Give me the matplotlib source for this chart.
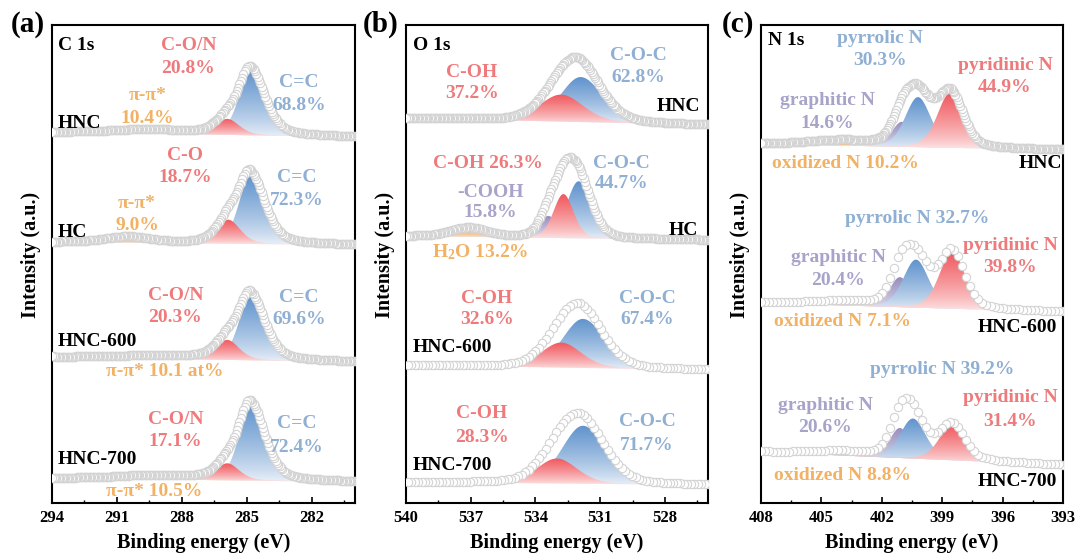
import numpy as np
import matplotlib
matplotlib.use("Agg")
import matplotlib.pyplot as plt
from matplotlib.patches import Polygon
from matplotlib.ticker import MultipleLocator
from matplotlib.colors import to_rgb

plt.rcParams["font.family"] = ["Liberation Serif", "DejaVu Serif"]
plt.rcParams["font.weight"] = "bold"
plt.rcParams["mathtext.fontset"] = "custom"
plt.rcParams["mathtext.rm"] = "Liberation Serif:bold"
plt.rcParams["mathtext.default"] = "rm"

# ---------------- data (peak fits, heights in a.u.) ----------------
samples = ["HNC", "HC", "HNC-600", "HNC-700"]

# C 1s
c1s_bg_left = [371, 261, 146, 25]
c1s_bg_right = [366, 258, 141, 21]
c1s_cc_pos = [284.85, 284.85, 284.85, 284.85]
c1s_cc_h = [66, 69, 65, 77]
c1s_co_pos = [285.9, 285.85, 285.9, 285.9]
c1s_co_h = [16, 24, 20, 17]
c1s_pi_pos = [289.5, 290.5, 289.0, 289.2]
c1s_pi_h = [4, 6, 3, 4]
c1s_pi_w = [4.0, 2.5, 5.0, 4.0]

# O 1s  (HC also has -COOH and H2O)
o1s_bg_left = [385, 267, 138, 21]
o1s_bg_right = [378, 263, 133, 18]
o1s_coc_pos = [531.9, 532.0, 531.8, 531.8]
o1s_coc_h = [45, 57, 49, 58]
o1s_coc_w = [2.2, 1.3, 2.2, 2.3]
o1s_coh_pos = [532.8, 532.7, 532.8, 533.0]
o1s_coh_h = [27, 44, 25, 25]
o1s_coh_w = [2.4, 1.1, 2.2, 2.2]
o1s_cooh_pos, o1s_cooh_h, o1s_cooh_w = 533.4, 22, 1.0
o1s_h2o_pos, o1s_h2o_h, o1s_h2o_w = 537.1, 9, 2.0

# N 1s  (HNC, HNC-600, HNC-700)
n1s_samples = ["HNC", "HNC-600", "HNC-700"]
n1s_bg_left = [359, 200, 51]
n1s_bg_right = [353, 191, 38]
n1s_pyrrolic_pos = [400.2, 400.3, 400.45]
n1s_pyrrolic_h = [50, 48, 40]
n1s_pyridinic_pos = [398.6, 398.5, 398.5]
n1s_pyridinic_h = [55, 57, 36]
n1s_graphitic_pos = [401.0, 401.1, 401.1]
n1s_graphitic_h = [25, 30, 30]
n1s_oxidized_pos = [404.0, 404.0, 404.0]
n1s_oxidized_h = [5, 4, 4]

RED, BLUE, ORANGE, PURPLE = "#f0585d", "#6093cd", "#f5a24a", "#968cbe"
TRED, TBLUE, TORANGE, TPURPLE = "#ef7a7c", "#8fafd3", "#f2b163", "#a7a3c9"


def pv(x, c, h, wl, wr, eta):
    w = np.where(x > c, wl, wr)
    d = (x - c) / w
    return h * ((1 - eta) * np.exp(-4 * np.log(2) * d ** 2) + eta / (1 + 4 * d ** 2))


def grad_fill(ax, x, lo, hi, color, z):
    verts = np.concatenate([np.column_stack([x, hi]), np.column_stack([x[::-1], lo[::-1]])])
    poly = Polygon(verts, closed=True, fc="none", ec="none")
    ax.add_patch(poly)
    s = np.linspace(0, 1, 256)[:, None]
    t = 0.1 + 0.9 * s ** 0.75
    img = ((1 - t) + t * np.array(to_rgb(color)))[:, None, :]
    im = ax.imshow(img, extent=(x.min(), x.max(), lo.min(), hi.max()), origin="lower",
                   aspect="auto", zorder=z, interpolation="bilinear")
    im.set_clip_path(poly)


def stack(ax, xlim, bgl, bgr, comps, eta, mstep, ms=6):
    lo_x, hi_x = min(xlim), max(xlim)
    x = np.linspace(lo_x, hi_x, 1400)
    bg = bgr + (bgl - bgr) * (x - lo_x) / (hi_x - lo_x)
    total = bg.copy()
    for z, (c, h, wl, wr, col) in enumerate(comps):
        y = pv(x, c, h, wl, wr, eta)
        total += y
        grad_fill(ax, x, bg, bg + y, col, 2 + z)
    xm = np.arange(lo_x, hi_x + 1e-9, mstep)
    ym = np.interp(xm, x, total)
    ax.plot(xm, ym, "o", ms=ms, mfc="white", mec="#d3d3d3", mew=0.8, zorder=8)


def lab(ax, x, y, s, color="black", ha="center", fs=14):
    ax.text(x, y, s, color=color, ha=ha, va="center", fontsize=fs, fontweight="bold", zorder=10)


def style(ax, xlim):
    ax.set_xlim(*xlim)
    ax.set_ylim(0, 478)
    ax.set_yticks([])
    ax.xaxis.set_major_locator(MultipleLocator(3))
    ax.xaxis.set_minor_locator(MultipleLocator(1.5))
    ax.tick_params(axis="x", which="major", direction="in", length=4, width=1.2, labelsize=12, pad=5)
    ax.tick_params(axis="x", which="minor", direction="in", length=2.5, width=1.0)
    for lab_ in ax.get_xticklabels():
        lab_.set_fontweight("bold")
    for s in ax.spines.values():
        s.set_linewidth(1.5)
    ax.set_xlabel("Binding energy (eV)", fontsize=14.5, fontweight="bold", labelpad=5)
    ax.set_ylabel("Intensity (a.u.)", fontsize=14.5, fontweight="bold")
    ax.yaxis.set_label_coords(-0.036, 0.52)


W, H = 1076, 558
fig = plt.figure(figsize=(W / 100, H / 100), dpi=100)


def axes_px(l, r, t, b):
    return fig.add_axes([l / W, 1 - b / H, (r - l) / W, (b - t) / H])


# ---------------- (a) C 1s ----------------
axa = axes_px(52, 355, 25, 503)
XA = (294, 280)
for i in range(4):
    comps = [(c1s_pi_pos[i], c1s_pi_h[i], c1s_pi_w[i], c1s_pi_w[i], ORANGE),
             (c1s_cc_pos[i], c1s_cc_h[i], 1.2, 1.6, BLUE),
             (c1s_co_pos[i], c1s_co_h[i], 1.3, 1.3, RED)]
    stack(axa, XA, c1s_bg_left[i], c1s_bg_right[i], comps, 0.4, 0.06)
lab(axa, 293.72, 458, "C 1s", ha="left")
lab(axa, 287.7, 458, "C-O/N", TRED); lab(axa, 287.7, 435, "20.8%", TRED)
lab(axa, 289.6, 408, "π-π*", TORANGE); lab(axa, 289.6, 385, "10.4%", TORANGE)
lab(axa, 282.6, 421, "C=C", TBLUE); lab(axa, 282.6, 398, "68.8%", TBLUE)
lab(axa, 293.72, 380, "HNC", ha="left")
lab(axa, 287.85, 348, "C-O", TRED); lab(axa, 287.85, 326, "18.7%", TRED)
lab(axa, 282.7, 326, "C=C", TBLUE); lab(axa, 282.7, 303, "72.3%", TBLUE)
lab(axa, 290.07, 300, "π-π*", TORANGE); lab(axa, 290.07, 278, "9.0%", TORANGE)
lab(axa, 293.72, 271, "HC", ha="left")
lab(axa, 288.3, 208, "C-O/N", TRED); lab(axa, 288.3, 186, "20.3%", TRED)
lab(axa, 282.6, 206, "C=C", TBLUE); lab(axa, 282.6, 183, "69.6%", TBLUE)
lab(axa, 293.72, 161, "HNC-600", ha="left")
lab(axa, 288.8, 131, "π-π* 10.1 at%", TORANGE)
lab(axa, 288.3, 83, "C-O/N", TRED); lab(axa, 288.3, 61, "17.1%", TRED)
lab(axa, 282.7, 80, "C=C", TBLUE); lab(axa, 282.7, 56, "72.4%", TBLUE)
lab(axa, 293.72, 43, "HNC-700", ha="left")
lab(axa, 289.3, 11, "π-π* 10.5%", TORANGE)
style(axa, XA)

# ---------------- (b) O 1s ----------------
axb = axes_px(406, 708, 25, 503)
XB = (540, 526)
for i in range(4):
    comps = []
    if samples[i] == "HC":
        comps.append((o1s_h2o_pos, o1s_h2o_h, o1s_h2o_w, o1s_h2o_w, ORANGE))
        comps.append((o1s_cooh_pos, o1s_cooh_h, o1s_cooh_w, o1s_cooh_w, PURPLE))
    comps.append((o1s_coc_pos[i], o1s_coc_h[i], o1s_coc_w[i], o1s_coc_w[i] * 1.1, BLUE))
    comps.append((o1s_coh_pos[i], o1s_coh_h[i], o1s_coh_w[i], o1s_coh_w[i], RED))
    stack(axb, XB, o1s_bg_left[i], o1s_bg_right[i], comps, 0.25, 0.06 if i < 2 else 0.16)
lab(axb, 539.68, 458, "O 1s", ha="left")
lab(axb, 536.94, 431, "C-OH", TRED); lab(axb, 536.94, 410, "37.2%", TRED)
lab(axb, 529.24, 448, "C-O-C", TBLUE); lab(axb, 529.24, 426, "62.8%", TBLUE)
lab(axb, 526.37, 397, "HNC", ha="right")
lab(axb, 536.2, 340, "C-OH 26.3%", TRED)
lab(axb, 536.1, 311, "-COOH", TPURPLE); lab(axb, 536.1, 291, "15.8%", TPURPLE)
lab(axb, 530.0, 340, "C-O-C", TBLUE); lab(axb, 530.0, 320, "44.7%", TBLUE)
lab(axb, 526.46, 273, "HC", ha="right")
lab(axb, 536.57, 251, "H$_2$O 13.2%", TORANGE)
lab(axb, 536.24, 205, "C-OH", TRED); lab(axb, 536.24, 183, "32.6%", TRED)
lab(axb, 528.83, 205, "C-O-C", TBLUE); lab(axb, 528.83, 183, "67.4%", TBLUE)
lab(axb, 539.68, 155, "HNC-600", ha="left")
lab(axb, 536.48, 90, "C-OH", TRED); lab(axb, 536.48, 66, "28.3%", TRED)
lab(axb, 528.83, 81, "C-O-C", TBLUE); lab(axb, 528.83, 58, "71.7%", TBLUE)
lab(axb, 539.68, 38, "HNC-700", ha="left")
style(axb, XB)

# ---------------- (c) N 1s ----------------
axc = axes_px(761, 1063, 25, 503)
XC = (408, 393)
for i in range(3):
    comps = [(n1s_oxidized_pos[i], n1s_oxidized_h[i], 4.0, 4.0, ORANGE),
             (n1s_graphitic_pos[i], n1s_graphitic_h[i], 1.2, 1.2, PURPLE),
             (n1s_pyrrolic_pos[i], n1s_pyrrolic_h[i], 1.5, 1.5, BLUE),
             (n1s_pyridinic_pos[i], n1s_pyridinic_h[i], 1.5, 1.5, RED)]
    stack(axc, XC, n1s_bg_left[i], n1s_bg_right[i], comps, 0.3, 0.06 if i == 0 else 0.2)
lab(axc, 407.65, 463, "N 1s", ha="left")
lab(axc, 402.09, 465, "pyrrolic N", TBLUE); lab(axc, 402.09, 443, "30.3%", TBLUE)
lab(axc, 395.88, 438, "pyridinic N", TRED); lab(axc, 395.88, 416, "44.9%", TRED)
lab(axc, 404.72, 403, "graphitic N", TPURPLE); lab(axc, 404.72, 380, "14.6%", TPURPLE)
lab(axc, 403.83, 340, "oxidized N 10.2%", TORANGE)
lab(axc, 393.05, 340, "HNC", ha="right")
lab(axc, 400.25, 285, "pyrrolic N 32.7%", TBLUE)
lab(axc, 395.63, 258, "pyridinic N", TRED); lab(axc, 395.63, 236, "39.8%", TRED)
lab(axc, 404.17, 246, "graphitic N", TPURPLE); lab(axc, 404.17, 223, "20.4%", TPURPLE)
lab(axc, 403.93, 181, "oxidized N 7.1%", TORANGE)
lab(axc, 393.3, 175, "HNC-600", ha="right")
lab(axc, 399.0, 133, "pyrrolic N 39.2%", TBLUE)
lab(axc, 395.63, 105, "pyridinic N", TRED); lab(axc, 395.63, 81, "31.4%", TRED)
lab(axc, 404.82, 98, "graphitic N", TPURPLE); lab(axc, 404.82, 76, "20.6%", TPURPLE)
lab(axc, 403.93, 28, "oxidized N 8.8%", TORANGE)
lab(axc, 393.3, 21, "HNC-700", ha="right")
style(axc, XC)

for s, xp in (("(a)", 28), ("(b)", 381), ("(c)", 738)):
    fig.text(xp / W, 1 - 24 / H, s, fontsize=21, fontweight="bold", ha="center", va="center")

fig.savefig("out.png", dpi=100)
